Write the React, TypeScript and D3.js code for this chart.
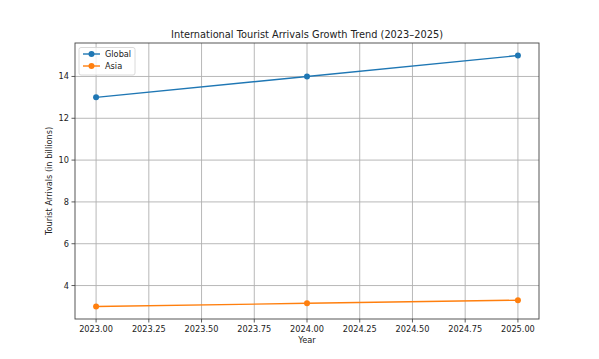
import React from "react";
import * as d3 from "d3";

const years = [2023, 2024, 2025];
const globalVals = [13, 14, 15];
const asiaVals = [3.0, 3.15, 3.3];
const xTicks = [2023.0, 2023.25, 2023.5, 2023.75, 2024.0, 2024.25, 2024.5, 2024.75, 2025.0];
const yTicks = [4, 6, 8, 10, 12, 14];
const seriesNames = ["Global", "Asia"];
const seriesColors = ["#1f77b4", "#ff7f0e"];

const W = 599, H = 359;
const L = 75, R = 539, T = 43, B = 319;
const FONT = "DejaVu Sans, sans-serif";

export default function App() {
  const x = d3.scaleLinear().domain([2022.9, 2025.1]).range([L, R]);
  const y = d3.scaleLinear().domain([2.4, 15.6]).range([B, T]);
  const line = d3.line<number>().x((_, i) => x(years[i])).y((v) => y(v));
  const series = [globalVals, asiaVals];
  return (
    <svg width={W} height={H} style={{ position: "absolute", left: 0, top: 0, background: "#fff" }}>
      <rect x={0} y={0} width={W} height={H} fill="#fff" />
      {xTicks.map((t) => (
        <g key={"x" + t}>
          <line x1={x(t)} x2={x(t)} y1={T} y2={B} stroke="#b0b0b0" strokeWidth={0.9} />
          <line x1={x(t)} x2={x(t)} y1={B} y2={B + 3.5} stroke="#333" strokeWidth={0.8} />
          <text x={x(t)} y={B + 13} textAnchor="middle" fontSize={8.2} fontFamily={FONT} fill="#222">
            {t.toFixed(2)}
          </text>
        </g>
      ))}
      {yTicks.map((t) => (
        <g key={"y" + t}>
          <line x1={L} x2={R} y1={y(t)} y2={y(t)} stroke="#b0b0b0" strokeWidth={0.9} />
          <line x1={L - 3.5} x2={L} y1={y(t)} y2={y(t)} stroke="#333" strokeWidth={0.8} />
          <text x={L - 6} y={y(t) + 3} textAnchor="end" fontSize={8.2} fontFamily={FONT} fill="#222">
            {t}
          </text>
        </g>
      ))}
      <rect x={L} y={T} width={R - L} height={B - T} fill="none" stroke="#444" strokeWidth={0.9} />
      {series.map((s, i) => (
        <g key={"s" + i}>
          <path d={line(s) || ""} fill="none" stroke={seriesColors[i]} strokeWidth={1.4} />
          {s.map((v, j) => (
            <circle key={j} cx={x(years[j])} cy={y(v)} r={3} fill={seriesColors[i]} />
          ))}
        </g>
      ))}
      <g>
        <rect x={79} y={47.5} width={56} height={27.5} rx={2} fill="#fff" fillOpacity={0.8} stroke="#d0d0d0" strokeWidth={0.8} />
        {seriesNames.map((n, i) => (
          <g key={n}>
            <line x1={83} x2={100} y1={54 + i * 12} y2={54 + i * 12} stroke={seriesColors[i]} strokeWidth={1.4} />
            <circle cx={91.5} cy={54 + i * 12} r={3} fill={seriesColors[i]} />
            <text x={105} y={57 + i * 12} fontSize={8.2} fontFamily={FONT} fill="#222">{n}</text>
          </g>
        ))}
      </g>
      <text x={(L + R) / 2} y={38} textAnchor="middle" fontSize={9.8} fontFamily={FONT} fill="#222">
        International Tourist Arrivals Growth Trend (2023–2025)
      </text>
      <text x={(L + R) / 2} y={343} textAnchor="middle" fontSize={8.2} fontFamily={FONT} fill="#222">
        Year
      </text>
      <text transform={`translate(52,${(T + B) / 2}) rotate(-90)`} textAnchor="middle" fontSize={8.2} fontFamily={FONT} fill="#222">
        Tourist Arrivals (in billions)
      </text>
    </svg>
  );
}
